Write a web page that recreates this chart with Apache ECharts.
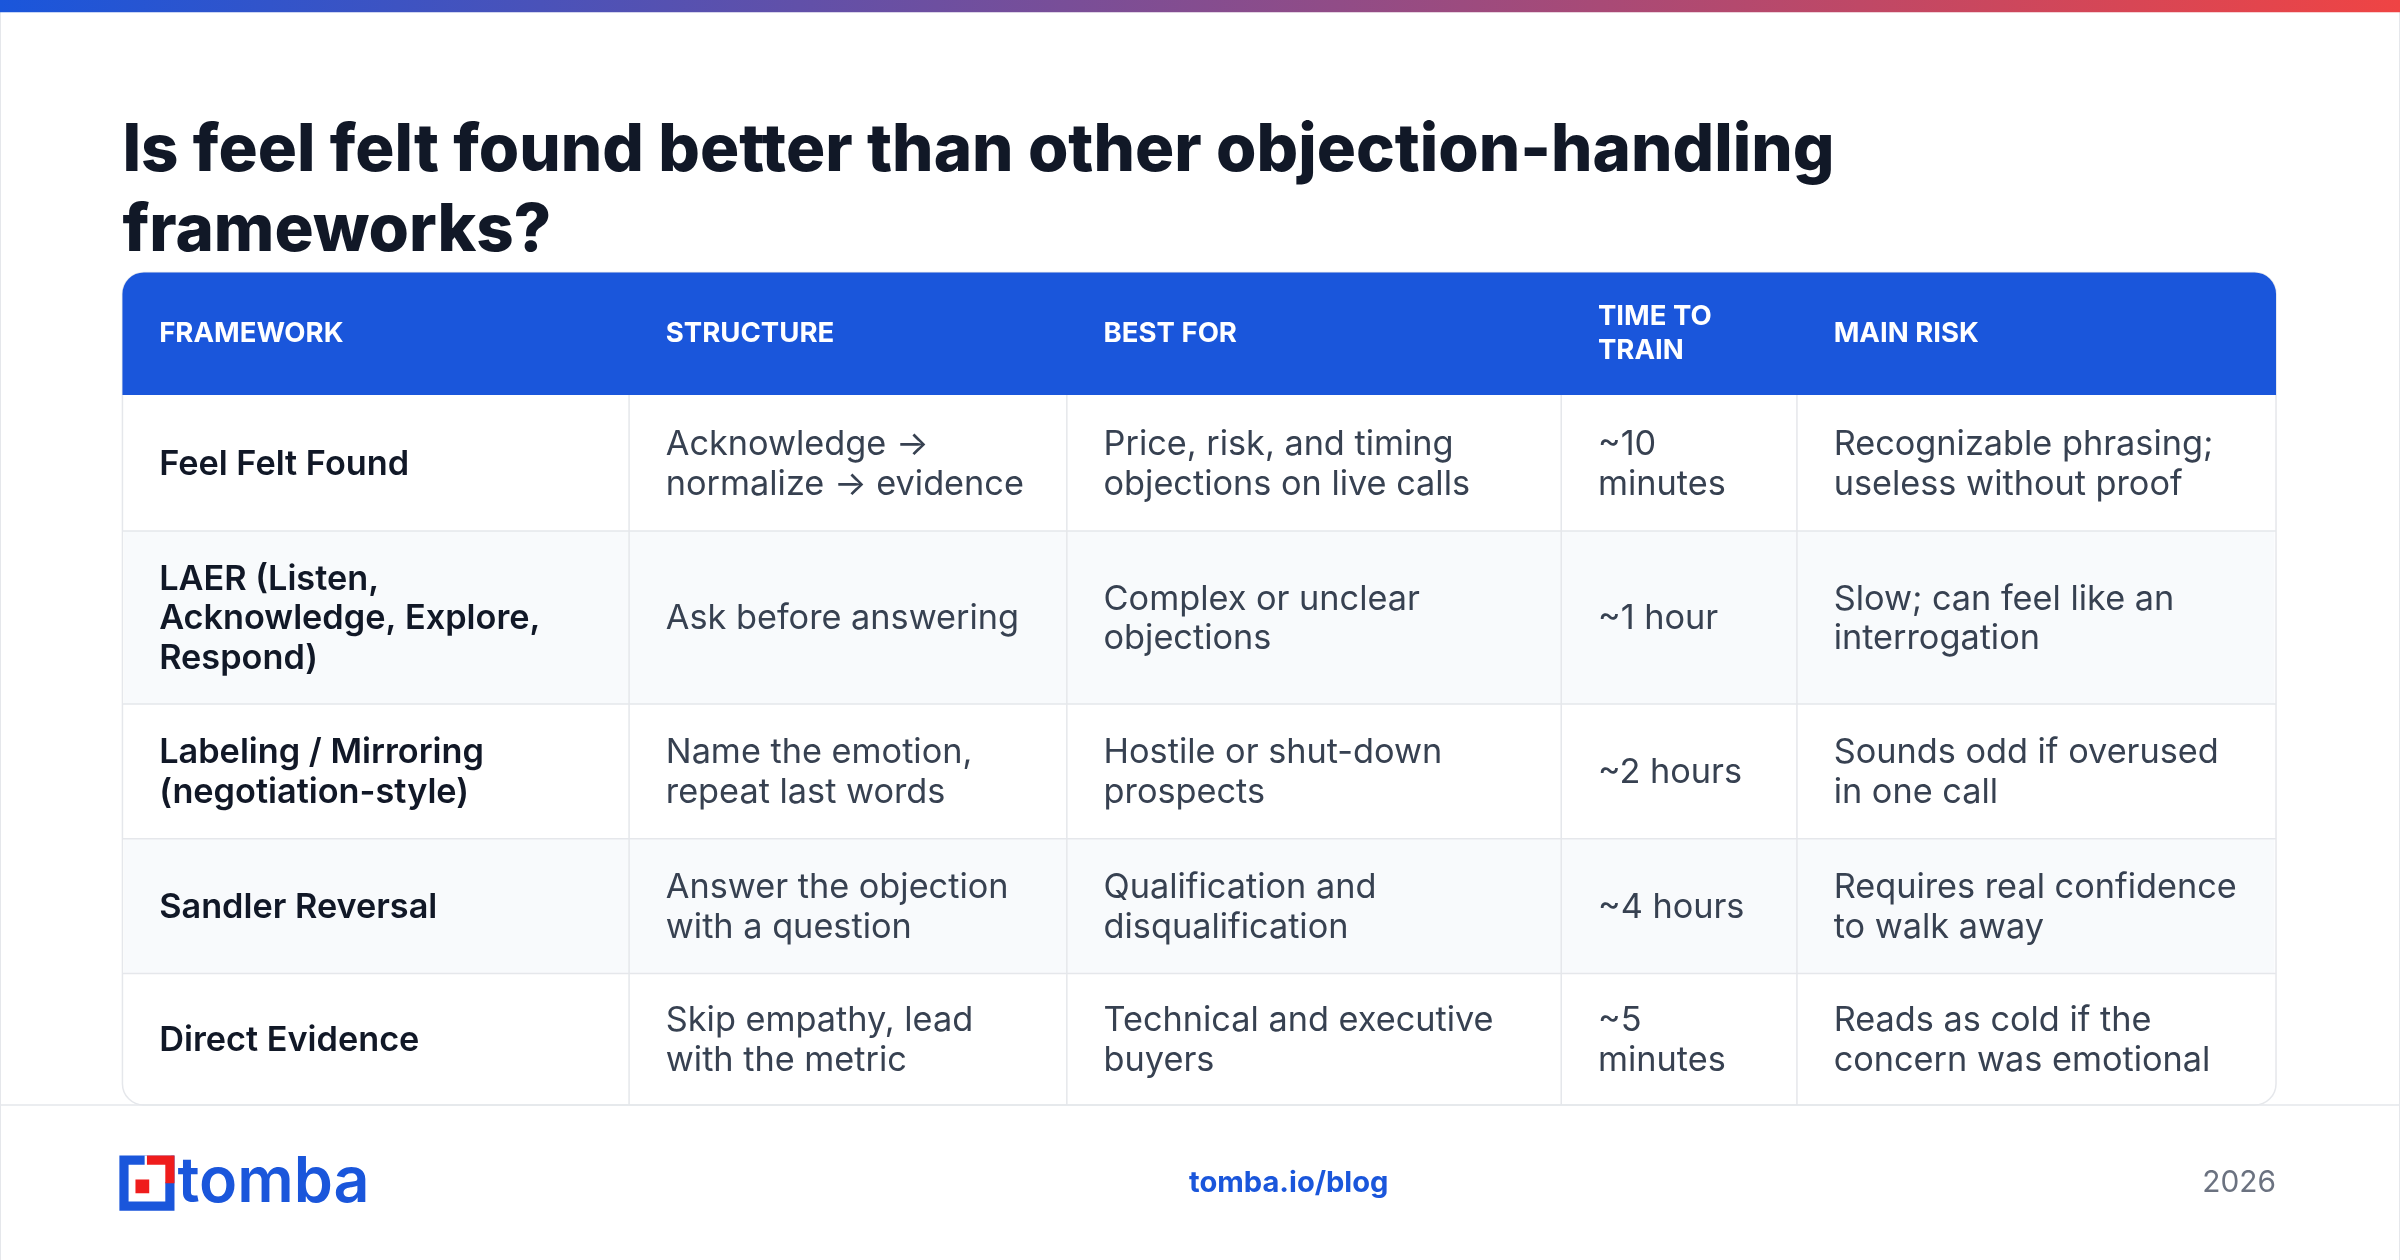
<!DOCTYPE html>
<html><head><meta charset="utf-8">
<script src="https://cdn.jsdelivr.net/npm/echarts@6/dist/echarts.min.js"></script>
<style>html,body{margin:0;padding:0;background:#fff}#c{width:2400px;height:1260px}</style>
</head><body><div id="c"></div>
<script>
const title = "Is feel felt found better than other objection-handling\nframeworks?";
const headers = ["FRAMEWORK", "STRUCTURE", "BEST FOR", "TIME TO\nTRAIN", "MAIN RISK"];
const frameworks = ["Feel Felt Found", "LAER (Listen,\nAcknowledge, Explore,\nRespond)", "Labeling / Mirroring\n(negotiation-style)", "Sandler Reversal", "Direct Evidence"];
const structures = ["Acknowledge →\nnormalize → evidence", "Ask before answering", "Name the emotion,\nrepeat last words", "Answer the objection\nwith a question", "Skip empathy, lead\nwith the metric"];
const bestFor = ["Price, risk, and timing\nobjections on live calls", "Complex or unclear\nobjections", "Hostile or shut-down\nprospects", "Qualification and\ndisqualification", "Technical and executive\nbuyers"];
const timeToTrain = ["~10\nminutes", "~1 hour", "~2 hours", "~4 hours", "~5\nminutes"];
const mainRisk = ["Recognizable phrasing;\nuseless without proof", "Slow; can feel like an\ninterrogation", "Sounds odd if overused\nin one call", "Requires real confidence\nto walk away", "Reads as cold if the\nconcern was emotional"];
const footerLink = "tomba.io/blog";
const footerYear = "2026";

const s = 2400/1568;
const F = "Inter, 'Noto Sans', sans-serif";
const colX = [80, 411, 697, 1020, 1174, 1487];
const rowY = [258, 347, 460, 548, 636, 722];
const tL = 80, tR = 1487, hTop = 178;
const g = [];
const S = v => v*s;
g.push({type:'rect', shape:{x:0,y:0,width:S(1568),height:S(824)}, style:{fill:'#fff',stroke:'#e5e7eb',lineWidth:2}});
g.push({type:'rect', shape:{x:0,y:0,width:S(1568),height:S(8)}, style:{fill:new echarts.graphic.LinearGradient(0,0,1,0,[{offset:0,color:'#1a56db'},{offset:1,color:'#ef4444'}])}});
g.push({type:'text', x:S(80), y:S(73), style:{text:title, font:`800 ${S(42.7)}px ${F}`, fill:'#111827', lineHeight:S(52), verticalAlign:'top'}});
g.push({type:'rect', shape:{x:S(tL),y:S(hTop),width:S(tR-tL),height:S(rowY[5]-hTop),r:S(14)}, style:{fill:'#fff',stroke:'#e5e7eb',lineWidth:1.5}});
g.push({type:'rect', shape:{x:S(tL),y:S(hTop),width:S(tR-tL),height:S(rowY[0]-hTop),r:[S(14),S(14),0,0]}, style:{fill:'#1a56db'}});
const cols = [frameworks, structures, bestFor, timeToTrain, mainRisk];
for (let r=0;r<5;r++){
  if (r%2===1) g.push({type:'rect', shape:{x:S(tL+1),y:S(rowY[r]),width:S(tR-tL-2),height:S(rowY[r+1]-rowY[r])}, style:{fill:'#f8fafc'}});
  if (r>0) g.push({type:'line', shape:{x1:S(tL),y1:S(rowY[r]),x2:S(tR),y2:S(rowY[r])}, style:{stroke:'#e5e7eb',lineWidth:1.5}});
}
for (let c=1;c<5;c++) g.push({type:'line', shape:{x1:S(colX[c]),y1:S(rowY[0]),x2:S(colX[c]),y2:S(rowY[5])}, style:{stroke:'#e5e7eb',lineWidth:1.5}});
for (let c=0;c<5;c++){
  g.push({type:'text', x:S(colX[c]+24), y:S((hTop+rowY[0])/2), style:{text:headers[c], font:`700 ${S(18)}px ${F}`, fill:'#fff', lineHeight:S(22), verticalAlign:'middle'}});
  for (let r=0;r<5;r++){
    g.push({type:'text', x:S(colX[c]+24), y:S((rowY[r]+rowY[r+1])/2+1), style:{text:cols[c][r], font:`${c===0?600:400} ${S(22.4)}px ${F}`, fill:c===0?'#111827':'#374151', lineHeight:S(26), verticalAlign:'middle'}});
  }
}
g.push({type:'line', shape:{x1:0,y1:S(722),x2:S(1568),y2:S(722)}, style:{stroke:'#e5e7eb',lineWidth:1.5}});
const lx=S(81), ly=S(758), ls=S(30);
g.push({type:'rect', shape:{x:lx,y:ly,width:ls,height:ls}, style:{fill:'none',stroke:'#1a56db',lineWidth:S(6)}});
g.push({type:'rect', shape:{x:lx+ls*0.45,y:ly-S(3),width:ls*0.58,height:ls*0.58}, style:{fill:'#fff'}});
g.push({type:'polyline', shape:{points:[[lx+ls*0.5,ly],[lx+ls,ly],[lx+ls,ly+ls*0.5]]}, style:{stroke:'#ef1c1c',lineWidth:S(6),fill:'none'}});
g.push({type:'rect', shape:{x:lx+ls*0.25,y:ly+ls*0.42,width:S(9),height:S(9)}, style:{fill:'#ef1c1c'}});
g.push({type:'text', x:S(116), y:S(773), style:{text:'tomba', font:`600 ${S(41)}px ${F}`, fill:'#1a56db', verticalAlign:'middle'}});
g.push({type:'text', x:S(842), y:S(773), style:{text:footerLink, font:`700 ${S(19)}px ${F}`, fill:'#1a56db', align:'center', verticalAlign:'middle'}});
g.push({type:'text', x:S(1487), y:S(773), style:{text:footerYear, font:`400 ${S(19.5)}px ${F}`, fill:'#6b7280', align:'right', verticalAlign:'middle'}});
const chart = echarts.init(document.getElementById('c'));
chart.setOption({animation:false, graphic:{elements:g}});
</script></body></html>
